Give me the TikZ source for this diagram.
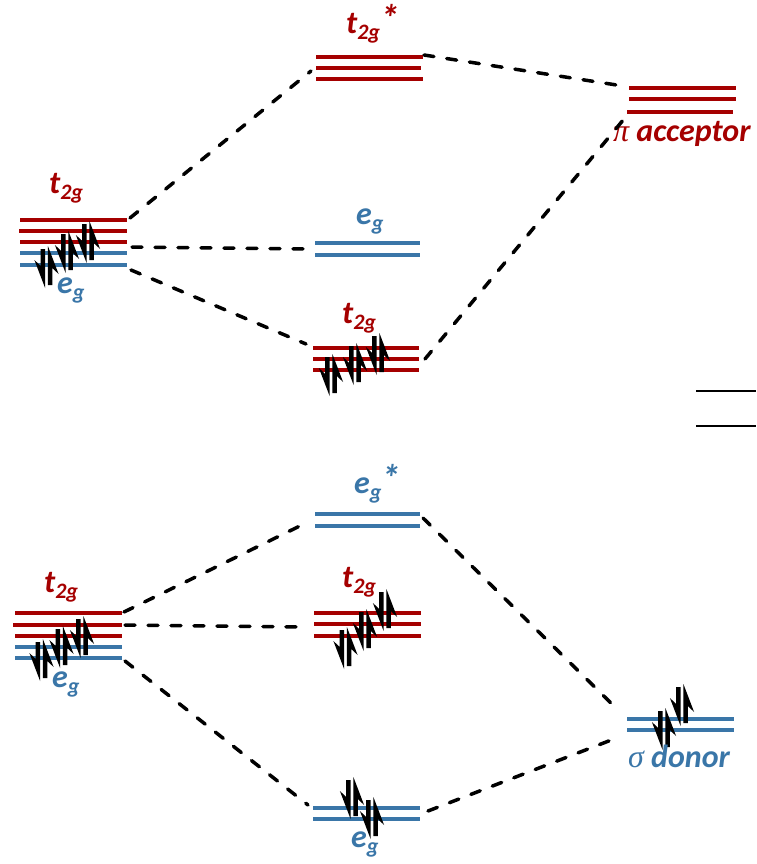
\documentclass[tikz,border=0pt]{standalone}
\usepackage{fontspec}
\setmainfont{Carlito}
\newfontfamily\greekfont{Liberation Serif}
\definecolor{mored}{RGB}{165,0,0}
\definecolor{moblue}{RGB}{58,118,168}
\tikzset{
  lev/.style={line width=3.5pt},
  redlev/.style={lev, draw=mored},
  bluelev/.style={lev, draw=moblue},
  reflev/.style={line width=2pt, draw=black},
  corr/.style={line width=3.5pt, dash pattern=on 10pt off 13pt, line cap=round},
  lab/.style={inner sep=0pt, anchor=base west, font=\fontsize{32}{38}\selectfont\bfseries\itshape},
  redlab/.style={lab, text=mored},
  bluelab/.style={lab, text=moblue},
  electron/.style={fill=black},
}
% subscript / superscript of the orbital labels
\newcommand\lsub[1]{\raisebox{-6pt}{\fontsize{22}{26}\selectfont #1}}
\newcommand\lstar{\raisebox{2pt}{\fontsize{38}{40}\selectfont *}}
\newcommand\grk[1]{{\greekfont\mdseries\itshape #1}}
% spin-down / spin-up half arrows: x, top, bottom
\newcommand\eldn[3]{\fill[electron] (#1-2.2,#2) -- (#1+2.2,#2) -- (#1+2.2,#3) -- (#1-8.5,#3-28) -- (#1-2.2,#3-22) -- cycle;}
\newcommand\elup[3]{\fill[electron] (#1-2.2,#3) -- (#1+2.2,#3) -- (#1+2.2,#2+22) -- (#1+8.5,#2+28) -- (#1-2.2,#2) -- cycle;}
% an electron pair centred at x, y
\newcommand\elpair[2]{\eldn{#1-3.6}{#2-18}{#2+21}\elup{#1+3.6}{#2-21}{#2+18}}
\begin{document}
\begin{tikzpicture}[x=1pt, y=-1pt]
\useasboundingbox (0,0) rectangle (756,864);

% ---------------- pi acceptor (upper half) ----------------
% metal d levels
\draw[redlev] (20,220) -- (127,220);
\draw[redlev] (19,231) -- (127,231);
\draw[redlev] (20,242) -- (127,242);
\draw[bluelev] (20,253) -- (127,253);
\draw[bluelev] (20,265) -- (127,265);
\elpair{46.5}{267}\elpair{67}{252}\elpair{88}{242}
\node[redlab] (mt2gA) at (49,193) {t\lsub{2g}};
\node[bluelab] (megA) at (57,293) {e\lsub{g}};

% antibonding t2g*
\draw[redlev] (316,57) -- (423,57);
\draw[redlev] (316,68) -- (421,68);
\draw[redlev] (316,79) -- (423,79);
\node[redlab] (t2gstar) at (346,34) {t\lsub{2g}\lstar};

% nonbonding eg
\draw[bluelev] (315,243) -- (420,243);
\draw[bluelev] (315,255) -- (420,255);
\node[bluelab] (egA) at (356,224) {e\lsub{g}};

% bonding t2g
\draw[redlev] (313,348) -- (419,348);
\draw[redlev] (313,359) -- (419,359);
\draw[redlev] (313,370) -- (419,370);
\elpair{331}{375}\elpair{355}{364}\elpair{378}{354}
\node[redlab] (t2gA) at (342,323) {t\lsub{2g}};

% ligand pi acceptor orbitals
\draw[redlev] (629,88) -- (736,88);
\draw[redlev] (629,99) -- (736,99);
\draw[redlev] (627,112) -- (733,112);
\node[redlab] (piacc) at (613,142) {\grk{π} acceptor};

% reference levels at the right edge
\draw[reflev] (696,391) -- (756,391);
\draw[reflev] (696,426) -- (756,426);

% correlation lines
\coordinate (a1) at (130,218);  \coordinate (b1) at (311,71);
\coordinate (a2) at (132,247);  \coordinate (b2) at (308,249);
\coordinate (a3) at (131,270);  \coordinate (b3) at (306,344);
\coordinate (a4) at (424,55);   \coordinate (b4) at (623,86);
\coordinate (a5) at (425,359);  \coordinate (b5) at (624,119);
\draw[corr] (a1) -- (b1);
\draw[corr] (a2) -- (b2);
\draw[corr] (a3) -- (b3);
\draw[corr] (a4) -- (b4);
\draw[corr] (a5) -- (b5);

% ---------------- sigma donor (lower half) ----------------
% metal d levels
\draw[redlev] (15,613) -- (122,613);
\draw[redlev] (13,625) -- (122,625);
\draw[redlev] (15,636) -- (122,636);
\draw[bluelev] (15,647) -- (122,647);
\draw[bluelev] (15,658) -- (122,658);
\elpair{41.5}{660}\elpair{61.5}{647}\elpair{82}{637}
\node[redlab] (mt2gB) at (44,592) {t\lsub{2g}};
\node[bluelab] (megB) at (52,687) {e\lsub{g}};

% antibonding eg*
\draw[bluelev] (315,514) -- (420,514);
\draw[bluelev] (315,526) -- (420,526);
\node[bluelab] (egstar) at (354,493) {e\lsub{g}\lstar};

% nonbonding t2g
\draw[redlev] (314,613) -- (421,613);
\draw[redlev] (314,624) -- (421,624);
\draw[redlev] (314,636) -- (421,636);
\elpair{345.5}{648}\elpair{365}{630}\elpair{385}{610}
\node[redlab] (t2gB) at (342,587) {t\lsub{2g}};

% bonding eg
\draw[bluelev] (313,808) -- (420,808);
\draw[bluelev] (313,819) -- (420,819);
\elpair{352}{798}\elpair{372}{818}
\node[bluelab] (egB) at (351,847) {e\lsub{g}};

% ligand sigma donor orbitals
\draw[bluelev] (627,719) -- (734,719);
\draw[bluelev] (627,730) -- (734,730);
\elpair{664}{729}\elpair{682}{705}
\node[bluelab] (sigdon) at (628,767) {\grk{σ} donor};

% correlation lines
\coordinate (c1) at (124,612);  \coordinate (d1) at (308,522);
\coordinate (c2) at (125,625);  \coordinate (d2) at (308,627);
\coordinate (c3) at (125,661);  \coordinate (d3) at (308,805);
\coordinate (c4) at (423,518);  \coordinate (d4) at (619,711);
\coordinate (c5) at (428,811);  \coordinate (d5) at (619,737);
\draw[corr] (c1) -- (d1);
\draw[corr] (c2) -- (d2);
\draw[corr] (c3) -- (d3);
\draw[corr] (c4) -- (d4);
\draw[corr] (c5) -- (d5);
\end{tikzpicture}
\end{document}
